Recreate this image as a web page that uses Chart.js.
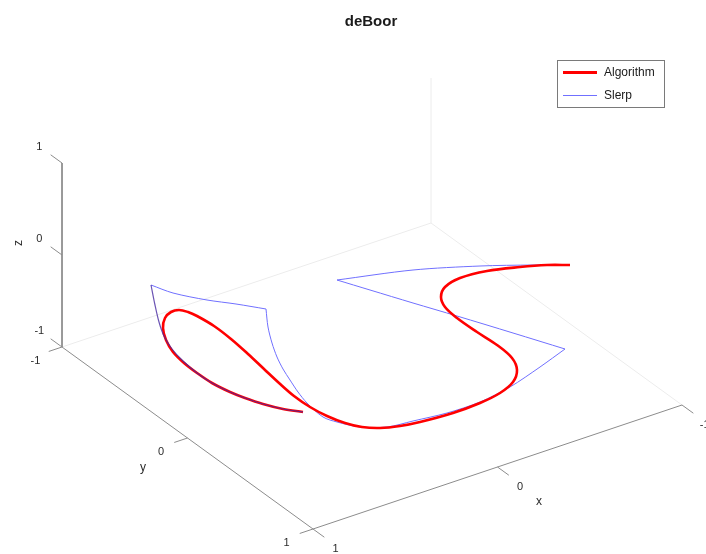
<!DOCTYPE html>
<html>
<head>
<meta charset="utf-8">
<title>deBoor</title>
<script src="https://cdn.jsdelivr.net/npm/chart.js@4/dist/chart.umd.min.js"></script>
<style>
  html, body { margin: 0; padding: 0; background: #fff; }
  #wrap { width: 706px; height: 554px; }
</style>
</head>
<body>
<div id="wrap"><canvas id="chart" width="706" height="554"></canvas></div>
<script>
// Projected (screen-plane) points read from the 3D view, x right / y down

// Algorithm curve (de Boor)
const algorithmX = [303, 283, 263, 245, 230, 212, 197, 184, 173, 166, 163, 165, 171, 179, 188, 197, 214, 231, 248, 264, 279,
                    294, 310, 327, 345, 362, 380, 400, 420, 453, 480, 500, 513, 517, 512, 497, 477, 457, 445, 441, 445, 460, 487, 520, 547, 570];
const algorithmY = [412, 409, 404, 398, 392, 383, 373, 363, 352, 340, 328, 318, 312, 310, 312, 316, 326, 339, 354, 369, 383,
                    396, 407, 416, 423, 427, 428, 426, 422, 413, 403, 393, 382, 370, 358, 345, 332, 318, 307, 297, 287, 278, 271, 267, 265, 265];

// Slerp curve, one array pair per great-circle arc
const slerpArc1X = [303, 283, 263, 245, 230, 212, 197, 183, 172, 164, 159, 155, 151];
const slerpArc1Y = [412, 409, 404, 398, 392, 383, 373, 361, 349, 336, 322, 305, 285];
const slerpArc2X = [151, 173, 207, 236, 266];
const slerpArc2Y = [285, 293, 300, 304, 309];
const slerpArc3X = [266, 268, 272, 277, 283, 290, 298, 307, 323, 337, 360, 387, 413, 447, 480, 510, 540, 565];
const slerpArc3Y = [309, 327, 343, 357, 369, 380, 392, 403, 417, 422, 427, 427, 421, 413, 402, 387, 367, 349];
const slerpArc4X = [565, 513, 457, 413, 370, 337];
const slerpArc4Y = [349, 333, 316, 303, 290, 280];
const slerpArc5X = [337, 413, 480, 533, 565];
const slerpArc5Y = [280, 270, 266, 265, 265];

// Box corners of the 3D axes in the same plane
const cornerOrigin = [62, 347];   // y=-1, z=-1 front-left corner
const cornerFront  = [313, 529];  // x=1, y=1, z=-1
const cornerRight  = [682, 405];  // x=-1, y=1, z=-1
const cornerBack   = [431, 223];  // hidden corner
const zTop         = [62, 163];   // z=1 above origin
const backTop      = [431, 78];

const tickValues = [-1, 0, 1];
const tickLabels = ['-1', '0', '1'];

const pts = (xs, ys) => xs.map((x, i) => ({ x: x, y: ys[i] }));

const RED = '#ff0000';
const BLUE = '#7070ff';
const AXIS = '#8c8c8c';
const FAINT = '#ececec';

function lineSet(data, color, width, tension, order) {
    return {
        data: data,
        borderColor: color,
        borderWidth: width,
        pointRadius: 0,
        showLine: true,
        fill: false,
        tension: tension,
        order: order
    };
}

// interpolate along an axis, value -1..1
function along(a, b, v) {
    const t = (v + 1) / 2;
    return [a[0] + (b[0] - a[0]) * t, a[1] + (b[1] - a[1]) * t];
}
function unit(a, b) {
    const dx = b[0] - a[0], dy = b[1] - a[1];
    const l = Math.hypot(dx, dy);
    return [dx / l, dy / l];
}

// Axes frame ticks and labels, title and legend
const frameOverlay = {
    id: 'frameOverlay',
    afterDatasetsDraw(chart) {
        const ctx = chart.ctx;
        const sx = chart.scales.x, sy = chart.scales.y;
        const px = p => [sx.getPixelForValue(p[0]), sy.getPixelForValue(p[1])];

        const dirY = unit(cornerOrigin, cornerFront);   // towards +y
        const dirX = unit(cornerRight, cornerFront);    // towards +x
        const tickLen = 14, labelDist = 28;

        ctx.save();
        ctx.strokeStyle = AXIS;
        ctx.lineWidth = 1;
        ctx.fillStyle = '#2b2b2b';
        ctx.font = '11px "Liberation Sans", Arial, sans-serif';
        ctx.textAlign = 'center';
        ctx.textBaseline = 'middle';

        function tick(p, dir, label, dy) {
            const a = px(p);
            ctx.beginPath();
            ctx.moveTo(a[0], a[1]);
            ctx.lineTo(a[0] + dir[0] * tickLen, a[1] + dir[1] * tickLen);
            ctx.stroke();
            ctx.fillText(label, a[0] + dir[0] * labelDist, a[1] + dir[1] * labelDist + dy);
        }

        // z ticks point along -y
        const negY = [-dirY[0], -dirY[1]];
        tickValues.forEach((v, i) => tick(along(cornerOrigin, zTop, v), negY, tickLabels[i], 0));
        // y ticks point along +x
        tickValues.forEach((v, i) => tick(along(cornerOrigin, cornerFront, v), dirX, tickLabels[i], 5));
        // x ticks point along +y (x runs from 1 at front to -1 at right)
        tickValues.forEach((v, i) => tick(along(cornerRight, cornerFront, v), dirY, tickLabels[i], 4));

        // axis names
        ctx.font = '12px "Liberation Sans", Arial, sans-serif';
        ctx.fillText('x', 539, 502);
        ctx.fillText('y', 143, 468);
        ctx.save();
        ctx.translate(19, 243);
        ctx.rotate(-Math.PI / 2);
        ctx.fillText('z', 0, 0);
        ctx.restore();

        // title
        ctx.fillStyle = '#1a1a1a';
        ctx.font = 'bold 15px "Liberation Sans", Arial, sans-serif';
        ctx.fillText('deBoor', 371, 22);

        // legend
        const lx = 557, ly = 60, lw = 107, lh = 47;
        ctx.fillStyle = '#ffffff';
        ctx.fillRect(lx, ly, lw, lh);
        ctx.strokeStyle = '#7a7a7a';
        ctx.lineWidth = 1;
        ctx.strokeRect(lx + 0.5, ly + 0.5, lw, lh);
        const entries = [['Algorithm', RED, 3, 72], ['Slerp', BLUE, 1, 95]];
        ctx.font = '12px "Liberation Sans", Arial, sans-serif';
        ctx.textAlign = 'left';
        entries.forEach(e => {
            ctx.strokeStyle = e[1];
            ctx.lineWidth = e[2];
            ctx.beginPath();
            ctx.moveTo(lx + 6, e[3] + 0.5);
            ctx.lineTo(lx + 40, e[3] + 0.5);
            ctx.stroke();
            ctx.fillStyle = '#1a1a1a';
            ctx.fillText(e[0], lx + 47, e[3] + 1);
        });
        ctx.restore();
    }
};

const datasets = [
    // hidden back edges
    lineSet([ { x: cornerOrigin[0], y: cornerOrigin[1] }, { x: cornerBack[0], y: cornerBack[1] },
              { x: cornerRight[0], y: cornerRight[1] } ], FAINT, 1, 0, 10),
    lineSet([ { x: cornerBack[0], y: cornerBack[1] }, { x: backTop[0], y: backTop[1] } ], FAINT, 1, 0, 10),
    // visible axes
    lineSet([ { x: zTop[0], y: zTop[1] }, { x: cornerOrigin[0], y: cornerOrigin[1] },
              { x: cornerFront[0], y: cornerFront[1] }, { x: cornerRight[0], y: cornerRight[1] } ], AXIS, 1, 0, 9),
    // Slerp
    lineSet(pts(slerpArc2X, slerpArc2Y), BLUE, 1, 0.3, 5),
    lineSet(pts(slerpArc3X, slerpArc3Y), BLUE, 1, 0.3, 5),
    lineSet(pts(slerpArc4X, slerpArc4Y), BLUE, 1, 0.3, 5),
    lineSet(pts(slerpArc5X, slerpArc5Y), BLUE, 1, 0.3, 5),
    // Algorithm
    lineSet(pts(algorithmX, algorithmY), RED, 2.6, 0.35, 2),
    // first Slerp arc lies on top of the red loop
    lineSet(pts(slerpArc1X, slerpArc1Y), 'rgba(70,40,160,0.8)', 1.2, 0.3, 1)
];

new Chart(document.getElementById('chart').getContext('2d'), {
    type: 'scatter',
    data: { datasets: datasets },
    options: {
        responsive: false,
        devicePixelRatio: 1,
        animation: false,
        layout: { padding: 0 },
        plugins: {
            legend: { display: false },
            title: { display: false },
            tooltip: { enabled: false }
        },
        scales: {
            x: { type: 'linear', min: 0, max: 706, display: false },
            y: { type: 'linear', min: 0, max: 554, reverse: true, display: false }
        }
    },
    plugins: [frameOverlay]
});
</script>
</body>
</html>
